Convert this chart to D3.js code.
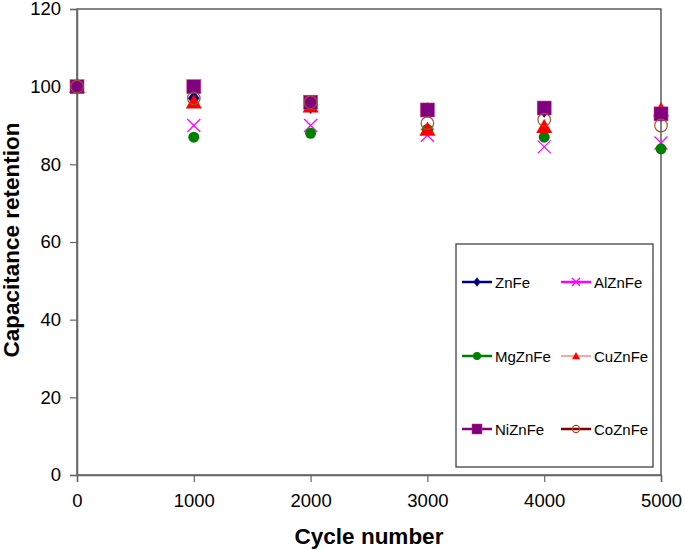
<!DOCTYPE html>
<html><head><meta charset="utf-8">
<script src="https://cdn.jsdelivr.net/npm/d3@7"></script>
<style>body{margin:0;background:#fff;} text{font-family:"Liberation Sans",Arial,sans-serif;}</style>
</head><body>
<svg id="c" width="685" height="550"></svg>
<script>
const cycles = [0, 1000, 2000, 3000, 4000, 5000];
const seriesNames = ["ZnFe", "AlZnFe", "MgZnFe", "CuZnFe", "NiZnFe", "CoZnFe"];
const ZnFe   = [100, 97, 95, 94, 94, 93];
const AlZnFe = [100, 90, 90, 87.5, 84.5, 85.5];
const MgZnFe = [100, 87, 88, 89, 87, 84];
const CuZnFe = [100, 96, 95, 89, 89.7, 94];
const NiZnFe = [100, 100, 96, 94, 94.5, 93];
const CoZnFe = [100, 97, 96, 90.6, 91.5, 90];
const xTicks = [0, 1000, 2000, 3000, 4000, 5000];
const yTicks = [0, 20, 40, 60, 80, 100, 120];

const svg = d3.select("#c");
const L = 77, R = 661, T = 9, B = 475;
const x = d3.scaleLinear().domain([0, 5000]).range([L, R]);
const y = d3.scaleLinear().domain([0, 120]).range([B, T]);

// frame
svg.append("rect").attr("x", L).attr("y", T).attr("width", R - L).attr("height", B - T)
  .attr("fill", "none").attr("stroke", "#333").attr("stroke-width", 1.2);

const yAxis = svg.append("g").attr("transform", `translate(${L},0)`)
  .call(d3.axisLeft(y).tickValues(yTicks).tickSize(7).tickPadding(9).tickFormat(d3.format("d")));
const xAxis = svg.append("g").attr("transform", `translate(0,${B})`)
  .call(d3.axisBottom(x).tickValues(xTicks).tickSize(7).tickPadding(12).tickFormat(d3.format("d")));
[yAxis, xAxis].forEach(g => {
  g.select(".domain").attr("stroke", "#666").attr("stroke-width", 1.5);
  g.selectAll(".tick line").attr("stroke", "#666").attr("stroke-width", 1.2);
  g.selectAll("text").attr("font-size", 18.5).attr("fill", "#000")
    .style("font-family", "'Liberation Sans', Arial, sans-serif");
});

svg.append("text").attr("x", (L + R) / 2).attr("y", 544).attr("text-anchor", "middle")
  .attr("font-size", 22.5).attr("font-weight", "bold").text("Cycle number");
svg.append("text").attr("transform", `translate(19,240) rotate(-90)`)
  .attr("text-anchor", "middle").attr("font-size", 22.5).attr("font-weight", "bold")
  .text("Capacitance retention");

const styles = {
  ZnFe:   {data: ZnFe,   color: "#000080", shape: "diamond"},
  AlZnFe: {data: AlZnFe, color: "#FF00FF", shape: "x"},
  MgZnFe: {data: MgZnFe, color: "#008000", shape: "circle"},
  CuZnFe: {data: CuZnFe, color: "#FF0000", shape: "triangle", line: "#FF6666"},
  NiZnFe: {data: NiZnFe, color: "#800080", shape: "square"},
  CoZnFe: {data: CoZnFe, color: "#800000", shape: "ocircle", mcolor: "#A0522D"}
};

function marker(g, shape, color, cx, cy, s) {
  if (shape === "diamond") {
    g.append("path").attr("d", `M${cx},${cy - s * 0.6}L${cx + s * 0.45},${cy}L${cx},${cy + s * 0.6}L${cx - s * 0.45},${cy}Z`).attr("fill", color);
  } else if (shape === "x") {
    const h = s * 0.5;
    g.append("path").attr("d", `M${cx - h},${cy - h}L${cx + h},${cy + h}M${cx - h},${cy + h}L${cx + h},${cy - h}`)
      .attr("stroke", color).attr("stroke-width", 1.2).attr("fill", "none");
  } else if (shape === "circle") {
    g.append("circle").attr("cx", cx).attr("cy", cy).attr("r", s * 0.5).attr("fill", color);
  } else if (shape === "triangle") {
    const h = s * 0.5;
    g.append("path").attr("d", `M${cx},${cy - h}L${cx + h},${cy + h * 0.8}L${cx - h},${cy + h * 0.8}Z`).attr("fill", color);
  } else if (shape === "square") {
    g.append("rect").attr("x", cx - s / 2).attr("y", cy - s / 2).attr("width", s).attr("height", s)
      .attr("fill", color).attr("stroke", "#cc3377").attr("stroke-width", 0.5);
  } else if (shape === "ocircle") {
    g.append("circle").attr("cx", cx).attr("cy", cy).attr("r", s * 0.45).attr("fill", "none")
      .attr("stroke", color).attr("stroke-width", 1.2);
  }
}

const sizes = {diamond: 13, x: 13, circle: 11, triangle: 16, square: 14, ocircle: 14};
const pts = svg.append("g");
seriesNames.forEach(n => {
  const st = styles[n];
  const g = pts.append("g");
  st.data.forEach((v, i) => marker(g, st.shape, st.mcolor || st.color, x(cycles[i]), y(v), sizes[st.shape]));
});

// legend
const lg = svg.append("g");
lg.append("rect").attr("x", 456).attr("y", 244).attr("width", 197).attr("height", 223)
  .attr("fill", "#fff").attr("stroke", "#333").attr("stroke-width", 1.2);
const rowsY = [282, 356, 429];
const colsX = [462, 561];
seriesNames.forEach((n, i) => {
  const st = styles[n];
  const cx0 = colsX[i % 2], cy0 = rowsY[Math.floor(i / 2)];
  lg.append("line").attr("x1", cx0).attr("x2", cx0 + 30).attr("y1", cy0).attr("y2", cy0)
    .attr("stroke", st.line || st.color).attr("stroke-width", st.line ? 1.2 : 2.5);
  marker(lg, st.shape, st.mcolor || st.color, cx0 + 15, cy0, st.shape === "square" ? 10 : 8);
  lg.append("text").attr("x", cx0 + 33).attr("y", cy0 + 5.5).attr("font-size", 15).attr("fill", "#000").text(n);
});
</script>
</body></html>
